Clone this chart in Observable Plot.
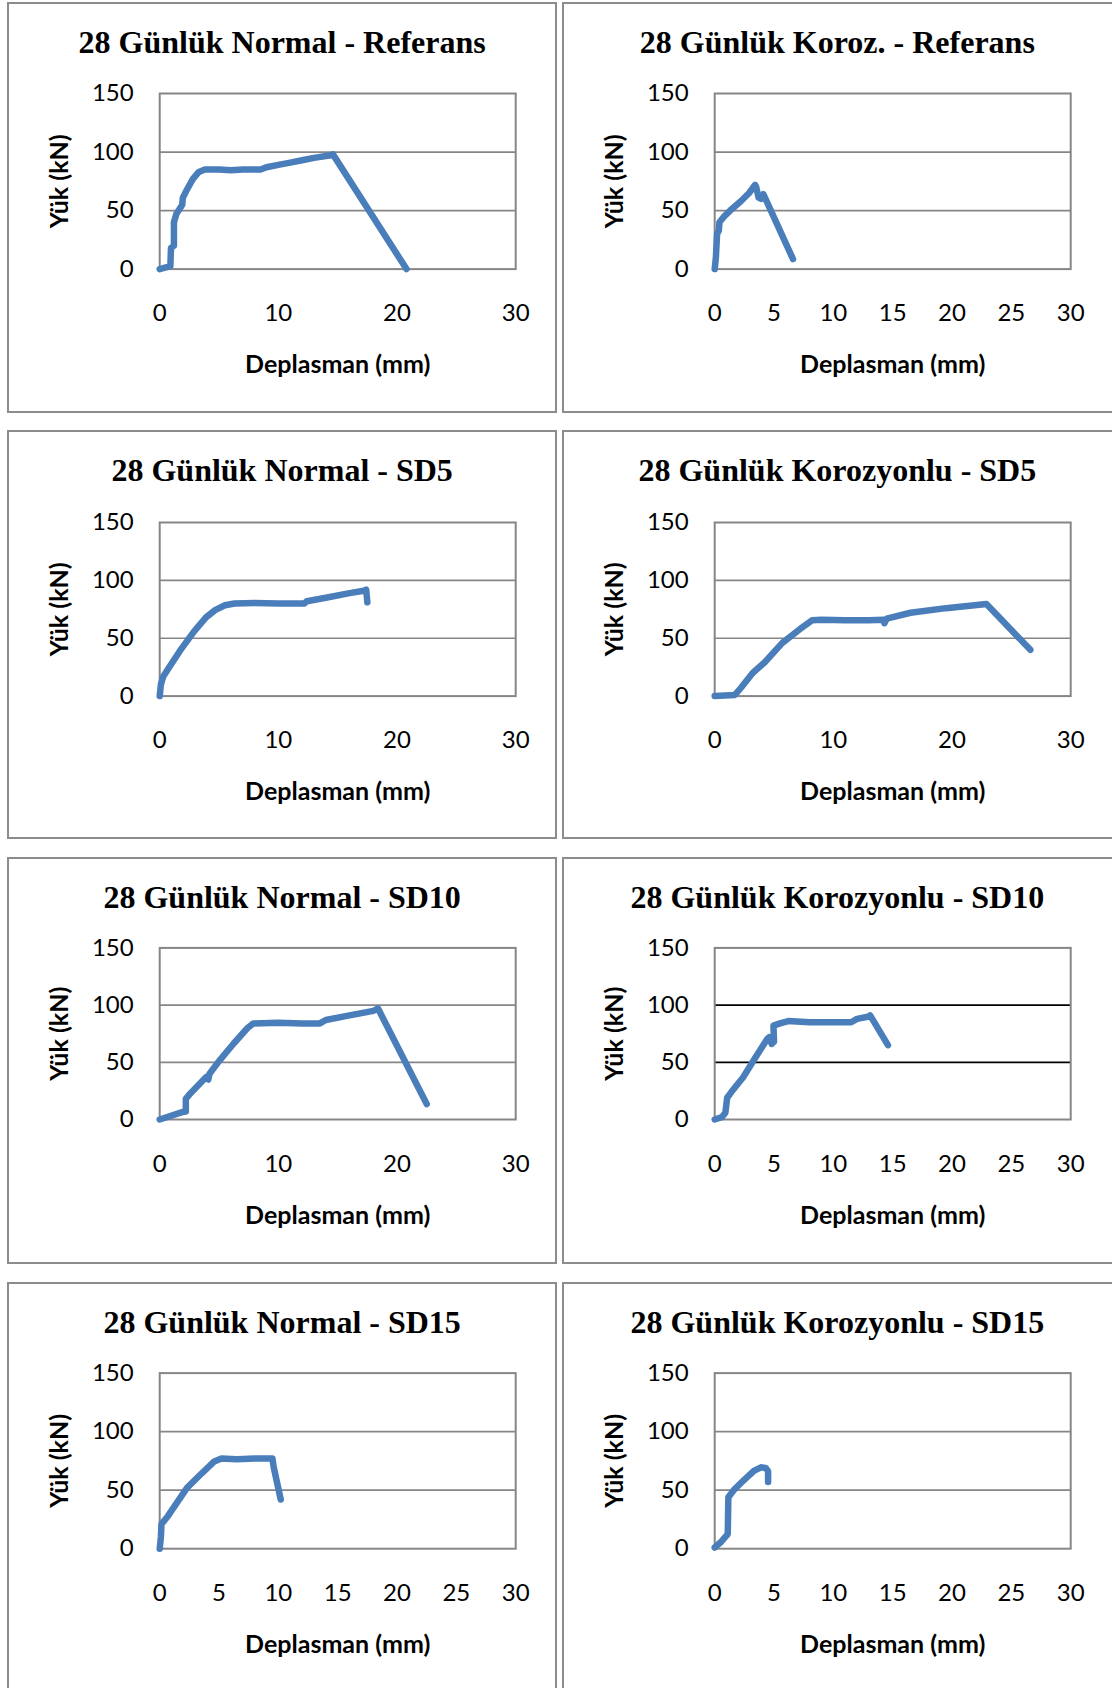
<!DOCTYPE html>
<html><head><meta charset="utf-8">
<script src="https://cdn.jsdelivr.net/npm/d3@7"></script>
<script src="https://cdn.jsdelivr.net/npm/@observablehq/plot@0.6"></script>
<style>
html,body{margin:0;padding:0;background:#fff;overflow:hidden;}
#root{position:relative;width:1112px;height:1688px;overflow:hidden;background:#fff;}
.title{position:absolute;text-align:center;font-family:"Liberation Serif","Times New Roman",serif;font-weight:bold;font-size:32px;line-height:32px;white-space:nowrap;color:#000;}
</style></head><body><div id="root"></div>
<script>
// ---- data ----
const panelTitles = [
  "28 Günlük Normal - Referans", "28 Günlük Koroz. - Referans",
  "28 Günlük Normal - SD5", "28 Günlük Korozyonlu - SD5",
  "28 Günlük Normal - SD10", "28 Günlük Korozyonlu - SD10",
  "28 Günlük Normal - SD15", "28 Günlük Korozyonlu - SD15"
];
const xLabel = "Deplasman (mm)";
const yLabel = "Yük (kN)";
const xTicks10 = [0, 10, 20, 30];
const xTicks5 = [0, 5, 10, 15, 20, 25, 30];
const yTicks = [0, 50, 100, 150];
const gridValues = [50, 100];

const normalRef = [[0,0],[0.9,2.5],[0.95,18],[1.2,20],[1.2,40],[1.4,47],[1.9,55],[1.95,61],[2.3,68],[2.8,77],[3.3,83],[3.8,85],[5,85],[6,84.5],[7,85],[8.5,85],[9,87],[10,89],[11,91],[12,93],[13,95],[14.3,97],[14.6,98],[20.8,0]];
const korozRef = [[0,0],[0.1,10],[0.2,30],[0.35,33],[0.4,40],[0.8,45],[1.3,50],[2.2,58],[2.9,65],[3.4,72],[3.5,70],[3.7,61],[3.9,60],[4.1,64],[6.6,8.5]];
const normalSD5 = [[0,0],[0.1,10],[0.3,17],[0.8,25],[1.7,39],[2.9,56],[3.9,68],[4.7,74.5],[5.5,78.5],[6.3,80],[8,80.5],[10,80],[12.2,80],[12.4,82],[14,85],[16,89],[17.2,91],[17.4,92],[17.5,81]];
const korozSD5 = [[0,0],[1.7,1],[2.2,7],[3.2,20],[4.2,29],[5.7,46],[7.2,58],[8.2,65.5],[9,66],[11,65.5],[13,65.5],[14.2,66],[14.3,63],[14.5,67],[16.5,72],[19.5,76],[22.9,79.5],[26.6,40]];
const normalSD10 = [[0,0],[1.9,6.5],[2.2,7],[2.2,18],[2.6,23],[3.9,37],[4.1,35],[4.2,40],[5,51],[6.2,66],[7.4,80],[7.9,84],[10,84.5],[12,84],[13.5,84],[14,87],[16,91],[18,95],[18.4,97],[22.5,13.5]];
const korozSD10 = [[0,0],[0.6,2],[0.9,6],[1.05,19],[1.4,24],[2.4,37],[3.3,52],[4.4,70],[4.6,72],[4.8,66],[5,68],[4.95,82],[5.5,84],[6.2,86],[8,85],[10,85],[11.5,85],[12,88],[13,90],[13.1,91],[14.6,65]];
const normalSD15 = [[0,0],[0.1,10],[0.15,21],[0.7,28],[1.5,40],[2.3,52],[3.5,64],[4.6,74.5],[5.2,77],[6.5,76.5],[8,77],[9.5,77],[9.6,70],[10.2,42]];
const korozSD15 = [[0,1],[0.5,5.5],[1.1,12.5],[1.15,44],[1.6,50],[2.4,58],[3.3,66.5],[3.9,69.5],[4.3,69],[4.5,66],[4.5,57]];

const series = [normalRef, korozRef, normalSD5, korozSD5, normalSD10, korozSD10, normalSD15, korozSD15];
const panelXTicks = [xTicks10, xTicks5, xTicks10, xTicks10, xTicks10, xTicks5, xTicks5, xTicks5];

// ---- layout / style ----
const colX = [7.9, 563.1];
const rowY = [2.7, 430.7, 858.3, 1282.7];
const rowH = [409, 407, 405, 409];
const plotTop = [90, 91, 89.4, 89.6];
const plotH = [175.6, 173.6, 171.6, 175.6];
const frameW = 548.5;
const plotLeft = 151.2, plotW = 356;
const lineColor = "#4a7ebb";
const grayLine = "#868686";
const gridColors = [grayLine, grayLine, grayLine, grayLine, grayLine, "#000", grayLine, grayLine];

const root = document.getElementById("root");
series.forEach((data, i) => {
  const r = Math.floor(i / 2), c = i % 2;
  const fx = colX[c], fy = rowY[r], H = rowH[r];
  const box = document.createElement("div");
  const extraW = c === 1 ? 4 : 0;
  box.style.cssText = `position:absolute;left:${fx - 1}px;top:${fy - 1}px;width:${frameW + 2 + extraW}px;height:${H + 2}px;border:2px solid #8c8c8c;box-sizing:border-box;`;
  root.appendChild(box);

  const svg = Plot.plot({
    width: frameW, height: H,
    marginLeft: plotLeft, marginRight: frameW - plotLeft - plotW,
    marginTop: plotTop[r], marginBottom: H - plotTop[r] - plotH[r],
    style: {fontFamily: "Lato, 'Open Sans', sans-serif", fontSize: "24px", color: "#000", background: "transparent", overflow: "visible"},
    x: {domain: [0, 30]},
    y: {domain: [0, 150]},
    marks: [
      Plot.gridY(gridValues, {stroke: gridColors[i], strokeOpacity: 1, strokeWidth: 1.7}),
      Plot.frame({stroke: grayLine, strokeWidth: 2}),
      Plot.axisY(yTicks, {tickSize: 0, tickPadding: 26, label: null}),
      Plot.axisX(panelXTicks[i], {tickSize: 0, tickPadding: 35, label: null}),
      Plot.line(data, {x: d => d[0], y: d => d[1], stroke: lineColor, strokeWidth: 6.5, strokeLinejoin: "round", strokeLinecap: "round"}),
      Plot.text([yLabel], {text: d => d, frameAnchor: "left", dx: -100, rotate: -90, textAnchor: "middle", fontWeight: "bold", fontSize: 25, lineAnchor: "middle"}),
      Plot.text([xLabel], {text: d => d, frameAnchor: "bottom", dy: 96, textAnchor: "middle", fontWeight: "bold", fontSize: 25, lineAnchor: "middle"})
    ]
  });
  svg.style.position = "absolute";
  svg.style.left = fx + "px";
  svg.style.top = fy + "px";
  root.appendChild(svg);

  const t = document.createElement("div");
  t.className = "title";
  t.textContent = panelTitles[i];
  t.style.left = fx + "px";
  t.style.width = frameW + "px";
  t.style.top = (fy + 23) + "px";
  root.appendChild(t);
});
</script>
</body></html>
